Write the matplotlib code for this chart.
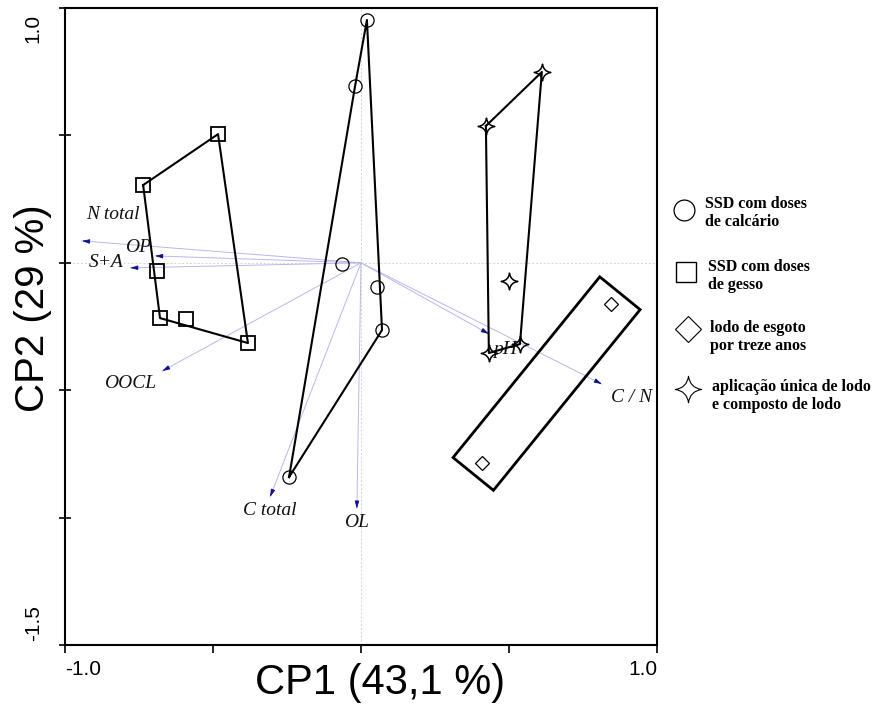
import numpy as np
import matplotlib
matplotlib.use("Agg")
import matplotlib.pyplot as plt
from matplotlib.path import Path
from matplotlib.lines import Line2D
from matplotlib.patches import Polygon

# ---------------- data ----------------
calc_x = [0.020, -0.020, -0.064, 0.054, 0.071, -0.243]
calc_y = [0.953, 0.694, -0.005, -0.095, -0.264, -0.841]
gesso_x = [-0.483, -0.736, -0.689, -0.679, -0.591, -0.382]
gesso_y = [0.505, 0.305, -0.032, -0.217, -0.221, -0.315]
unica_x = [0.611, 0.422, 0.500, 0.537, 0.432]
unica_y = [0.749, 0.537, -0.071, -0.319, -0.354]
treze_x = [0.845, 0.409]
treze_y = [-0.162, -0.786]

var_names = ["N total", "OP", "S+A", "OOCL", "C total", "OL", "pH", "C / N"]
var_x = [-0.943, -0.696, -0.780, -0.672, -0.307, -0.014, 0.432, 0.814]
var_y = [0.086, 0.027, -0.020, -0.425, -0.919, -0.965, -0.279, -0.476]

legend_labels = ["SSD com doses\nde calcário", "SSD com doses\nde gesso",
                 "lodo de esgoto\npor treze anos",
                 "aplicação única de lodo\ne composto de lodo"]

x_label = "CP1 (43,1 %)"
y_label = "CP2 (29 %)"

# ---------------- helpers ----------------
def hull(xs, ys):
    pts = sorted(set(zip(xs, ys)))
    def cross(o, a, b):
        return (a[0]-o[0])*(b[1]-o[1]) - (a[1]-o[1])*(b[0]-o[0])
    lower, upper = [], []
    for p in pts:
        while len(lower) >= 2 and cross(lower[-2], lower[-1], p) <= 0:
            lower.pop()
        lower.append(p)
    for p in reversed(pts):
        while len(upper) >= 2 and cross(upper[-2], upper[-1], p) <= 0:
            upper.pop()
        upper.append(p)
    h = lower[:-1] + upper[:-1]
    h.append(h[0])
    return [p[0] for p in h], [p[1] for p in h]

# four-point star marker with concave sides
M, C3, CL = Path.MOVETO, Path.CURVE3, Path.CLOSEPOLY
k = 0.12
star_verts = [(0, 1), (k, k), (1, 0), (k, -k), (0, -1), (-k, -k), (-1, 0), (-k, k), (0, 1), (0, 1)]
star_codes = [M, C3, C3, C3, C3, C3, C3, C3, C3, CL]
star = Path(star_verts, star_codes)

# ---------------- figure ----------------
W, H = 891, 704
fig = plt.figure(figsize=(W/100, H/100), dpi=100)
ax = fig.add_axes([65/W, (H-645)/H, 592/W, 637/H])
ax.set_xlim(-1.0, 1.0)
ax.set_ylim(-1.5, 1.0)

# reference lines
ax.axhline(0, color="#d4d4d4", lw=0.7, ls=(0, (2, 2)), zorder=0)
ax.axvline(0, color="#d4d4d4", lw=0.7, ls=(0, (2, 2)), zorder=0)

# variable vectors
fig.canvas.draw()
for name, vx, vy in zip(var_names, var_x, var_y):
    ax.plot([0, vx], [0, vy], color="#b8b8ec", lw=0.7, zorder=1)
    p0 = ax.transData.transform((0, 0))
    p1 = ax.transData.transform((vx, vy))
    d = (p1 - p0) / np.hypot(*(p1 - p0))
    ax.annotate("", xy=(vx, vy), xytext=(-d[0]*5, -d[1]*5), textcoords="offset points",
                arrowprops=dict(arrowstyle="-|>,head_length=0.45,head_width=0.13",
                                color="#101090", lw=0.6, shrinkA=0, shrinkB=0), zorder=2)

label_off = {"N total": (22, 19), "OP": (-12, 6), "S+A": (-17, 4), "OOCL": (-23, -9),
             "C total": (0, -10), "OL": (0, -10), "pH": (12, -11), "C / N": (21, -10)}
for name, vx, vy in zip(var_names, var_x, var_y):
    ax.annotate(name, xy=(vx, vy), xytext=label_off[name], textcoords="offset points",
                ha="center", va="center", fontfamily="Liberation Serif", style="italic",
                fontsize=14, color="#111111", zorder=3)

# groups: hull polygons + markers
for xs, ys in [(calc_x, calc_y), (gesso_x, gesso_y), (unica_x, unica_y)]:
    hx, hy = hull(xs, ys)
    ax.plot(hx, hy, color="black", lw=1.5, zorder=4)

ax.plot(calc_x, calc_y, ls="none", marker="o", ms=9.5, mfc="none", mec="black", mew=0.9, zorder=5)
ax.plot(gesso_x, gesso_y, ls="none", marker="s", ms=9.5, mfc="none", mec="black", mew=1.3, zorder=5)
ax.plot(unica_x, unica_y, ls="none", marker=star, ms=12, mfc="none", mec="black", mew=1.1, zorder=5)
ax.plot(treze_x, treze_y, ls="none", marker="D", ms=7, mfc="none", mec="black", mew=0.9, zorder=5)

# rectangle around the two "treze anos" points (computed in display space)
a = ax.transData.transform((treze_x[0], treze_y[0]))
b = ax.transData.transform((treze_x[1], treze_y[1]))
u = (a - b) / np.hypot(*(a - b))
v = np.array([-u[1], u[0]])
ext, half = 14, 26
corners = [a + u*ext + v*half, a + u*ext - v*half, b - u*ext - v*half, b - u*ext + v*half]
corners = ax.transData.inverted().transform(np.array(corners))
ax.add_patch(Polygon(corners, closed=True, fill=False, ec="black", lw=2.0, zorder=4))

# axes styling
for s in ax.spines.values():
    s.set_linewidth(1.5)
    s.set_color("black")
ax.set_xticks([-1.0, -0.5, 0.0, 0.5, 1.0])
ax.set_yticks([-1.5, -1.0, -0.5, 0.0, 0.5, 1.0])
ax.set_xticklabels([])
ax.set_yticklabels([])
ax.tick_params(axis="x", direction="out", length=6, width=1.2)
ax.tick_params(axis="y", direction="inout", length=9, width=1.2)

tick_font = dict(fontfamily="Liberation Sans", fontsize=15, color="black")
xt = ax.get_xaxis_transform()
yt = ax.get_yaxis_transform()
ax.annotate("-1.0", xy=(-1.0, 0), xycoords=xt, xytext=(0, -11), textcoords="offset points",
            ha="left", va="top", **tick_font)
ax.annotate("1.0", xy=(1.0, 0), xycoords=xt, xytext=(0, -11), textcoords="offset points",
            ha="right", va="top", **tick_font)
ax.annotate("1.0", xy=(0, 1.0), xycoords=yt, xytext=(-16, -4), textcoords="offset points",
            ha="right", va="top", rotation=90, **tick_font)
ax.annotate("-1.5", xy=(0, -1.5), xycoords=yt, xytext=(-16, 3), textcoords="offset points",
            ha="right", va="bottom", rotation=90, **tick_font)

# axis titles
fig.text(380/W, 1-683/H, x_label, ha="center", va="center",
         fontfamily="Liberation Sans", fontsize=30)
fig.text(33/W, 1-308/H, y_label, ha="center", va="center", rotation=90,
         fontfamily="Liberation Sans", fontsize=29)

# legend
leg_markers = [dict(marker="o", ms=15, mew=0.9), dict(marker="s", ms=14, mew=1.0),
               dict(marker="D", ms=13, mew=0.8), dict(marker=star, ms=19, mew=0.8)]
leg_mpos = [(684, 210), (686, 272), (688, 329), (688, 389)]
leg_tpos = [(705, 213), (708, 276), (710, 337), (712, 396)]
for lab, mk, mp, tp in zip(legend_labels, leg_markers, leg_mpos, leg_tpos):
    fig.add_artist(Line2D([mp[0]/W], [1-mp[1]/H], transform=fig.transFigure, ls="none",
                          mfc="none", mec="black", **mk))
    fig.text(tp[0]/W, 1-tp[1]/H, lab, ha="left", va="center", fontfamily="Liberation Serif",
             fontweight="bold", fontsize=11.5, linespacing=1.15)

fig.savefig("out.png", dpi=100)
